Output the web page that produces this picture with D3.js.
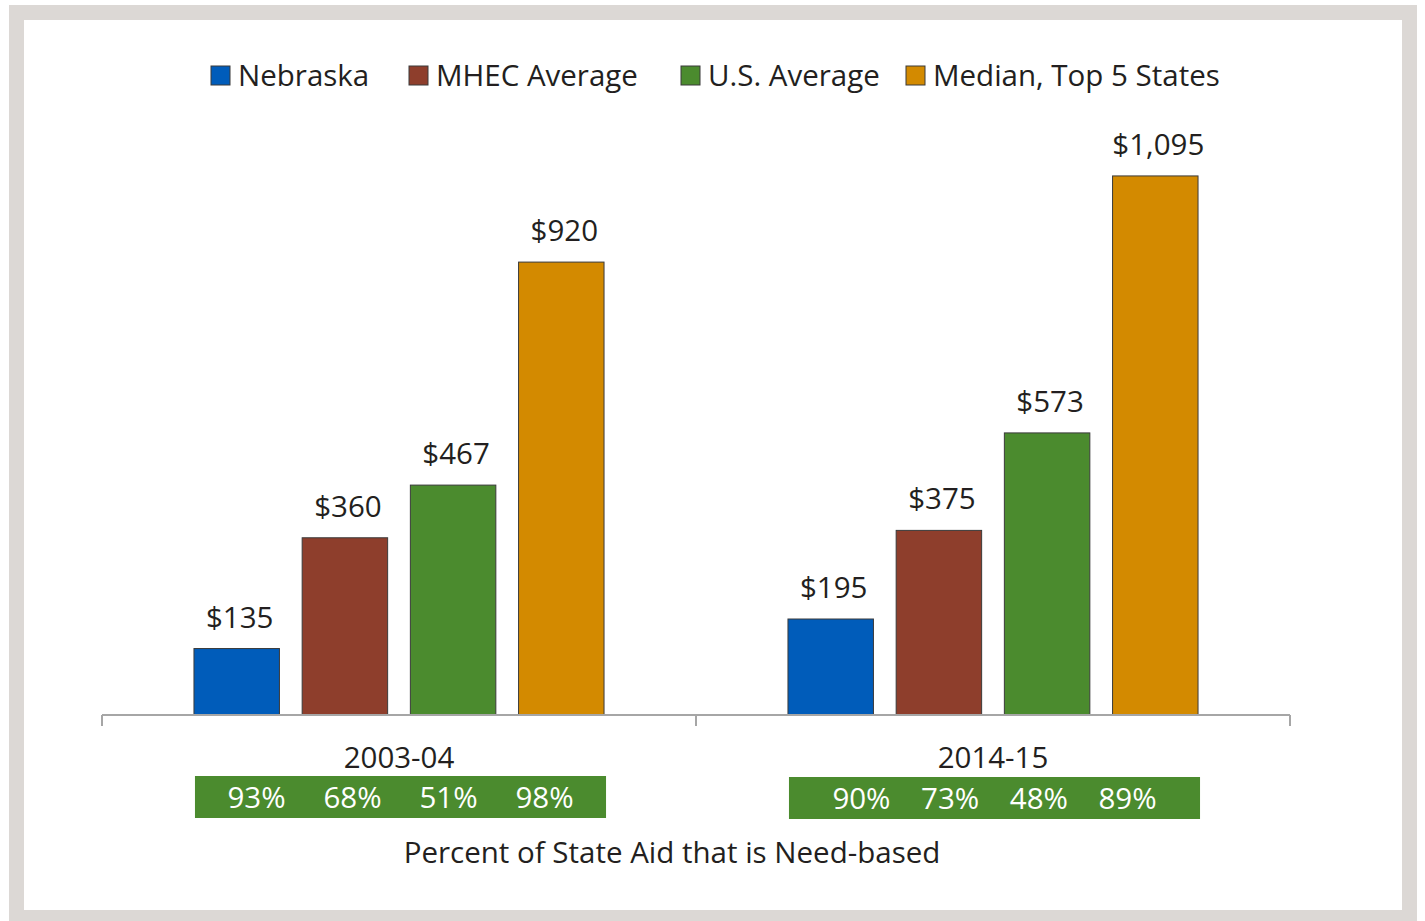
<!DOCTYPE html>
<html><head><meta charset="utf-8">
<script src="https://cdn.jsdelivr.net/npm/d3@7"></script>
<style>html,body{margin:0;padding:0;background:#fff;} svg{display:block;}</style>
</head><body>
<script>
const years = ["2003-04", "2014-15"];
const series = ["Nebraska", "MHEC Average", "U.S. Average", "Median, Top 5 States"];
const colors = ["#005CBA", "#8E3E2C", "#4B8B2E", "#D38A00"];
const values2003 = [135, 360, 467, 920];
const values2014 = [195, 375, 573, 1095];
const valueLabels2003 = ["$135", "$360", "$467", "$920"];
const valueLabels2014 = ["$195", "$375", "$573", "$1,095"];
const needPct2003 = ["93%", "68%", "51%", "98%"];
const needPct2014 = ["90%", "73%", "48%", "89%"];
const bottomTitle = "Percent of State Aid that is Need-based";

const W = 1425, H = 921;
const svg = d3.select("body").append("svg").attr("width", W).attr("height", H);
const font = "'Open Sans', sans-serif";
const fs = 29.5;
const txt = "#231F20";

// frame
svg.append("rect").attr("x", 9).attr("y", 5).attr("width", 1408).attr("height", 930).attr("fill", "#DCD8D5");
svg.append("rect").attr("x", 24).attr("y", 20).attr("width", 1378).attr("height", 890).attr("fill", "#fff");

const data = [
  {year: years[0], vals: values2003, labels: valueLabels2003, pct: needPct2003},
  {year: years[1], vals: values2014, labels: valueLabels2014, pct: needPct2014}
];

const x0 = d3.scaleBand().domain(years).range([102, 1290]).padding(0);
const x1 = d3.scaleBand().domain(series).range([0, x0.bandwidth()]).paddingInner(0.21).paddingOuter(0.85);
const y = d3.scaleLinear().domain([0, 1200]).range([715, 715 - 0.4923 * 1200]);

// bars
data.forEach(g => {
  const gx = x0(g.year);
  const grp = svg.append("g").attr("transform", `translate(${gx},0)`);
  grp.selectAll("rect").data(series).join("rect")
    .attr("x", s => x1(s))
    .attr("y", (s, i) => y(g.vals[i]))
    .attr("width", x1.bandwidth())
    .attr("height", (s, i) => y(0) - y(g.vals[i]))
    .attr("fill", (s, i) => colors[i])
    .attr("stroke", "#3a3a3a").attr("stroke-width", 1);
  grp.selectAll("text.val").data(series).join("text").attr("class", "val")
    .attr("x", s => x1(s) + x1.bandwidth() / 2 + 3)
    .attr("y", (s, i) => y(g.vals[i]) - 21)
    .attr("text-anchor", "middle")
    .attr("font-family", font).attr("font-size", fs).attr("fill", txt)
    .text((s, i) => g.labels[i]);
});

// axis
const axis = svg.append("g");
axis.append("line").attr("x1", 102).attr("x2", 1290).attr("y1", 715).attr("y2", 715)
  .attr("stroke", "#A6A6A6").attr("stroke-width", 2);
const tickXs = years.map(yr => x0(yr)).concat([x0(years[1]) + x0.bandwidth()]);
axis.selectAll("line.tick").data(tickXs).join("line").attr("class", "tick")
  .attr("x1", d => d).attr("x2", d => d).attr("y1", 715).attr("y2", 726)
  .attr("stroke", "#A6A6A6").attr("stroke-width", 2);
axis.selectAll("text.cat").data(years).join("text").attr("class", "cat")
  .attr("x", d => x0(d) + x0.bandwidth() / 2)
  .attr("y", 768)
  .attr("text-anchor", "middle")
  .attr("font-family", font).attr("font-size", fs).attr("fill", txt)
  .text(d => d);

// need-based boxes
const spans = [96, 88.7];
data.forEach((g, gi) => {
  const gx = x0(g.year);
  const left = gx + x1(series[0]) + 1;
  const right = gx + x1(series[3]) + x1.bandwidth() + 2;
  svg.append("rect").attr("x", left).attr("y", 776 + gi).attr("width", right - left).attr("height", 42)
    .attr("fill", "#4B8B2E");
  const cx = (left + right) / 2;
  const p = d3.scalePoint().domain(series).range([cx - 1.5 * spans[gi], cx + 1.5 * spans[gi]]);
  svg.selectAll(null).data(series).join("text")
    .attr("x", s => p(s))
    .attr("y", 808 + gi)
    .attr("text-anchor", "middle")
    .attr("font-family", font).attr("font-size", fs).attr("fill", "#fff")
    .text((s, i) => g.pct[i]);
});

svg.append("text").attr("x", 672).attr("y", 863).attr("text-anchor", "middle")
  .attr("font-family", font).attr("font-size", fs).attr("fill", txt).text(bottomTitle);

// legend
const legX = [211, 409, 681, 906];
const leg = svg.append("g");
series.forEach((s, i) => {
  leg.append("rect").attr("x", legX[i]).attr("y", 66).attr("width", 19).attr("height", 19)
    .attr("fill", colors[i]).attr("stroke", "#3a3a3a").attr("stroke-width", 1);
  leg.append("text").attr("x", legX[i] + 27).attr("y", 86)
    .attr("font-family", font).attr("font-size", fs).attr("fill", txt).text(s);
});
</script>
</body></html>
